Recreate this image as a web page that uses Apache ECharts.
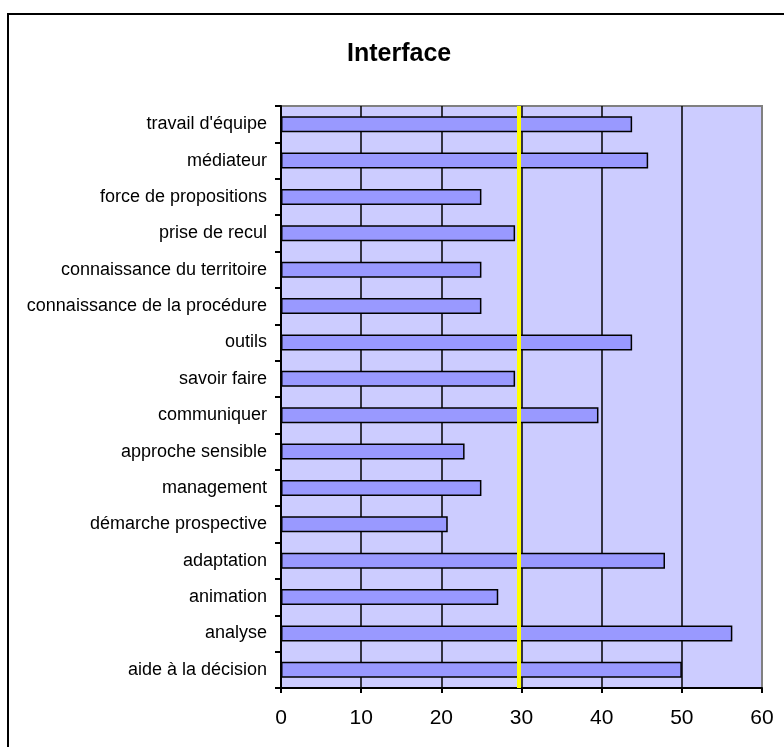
<!DOCTYPE html>
<html>
<head>
<meta charset="utf-8">
<title>Interface</title>
<script src="https://cdn.jsdelivr.net/npm/echarts@6/dist/echarts.min.js"></script>
<style>
  html, body { margin: 0; padding: 0; background: #fff; }
  #chart { width: 784px; height: 747px; }
</style>
</head>
<body>
<div id="chart"></div>
<script>
// categories, top to bottom as drawn
var categories = [
  'travail d\'équipe',
  'médiateur',
  'force de propositions',
  'prise de recul',
  'connaissance du territoire',
  'connaissance de la procédure',
  'outils',
  'savoir faire',
  'communiquer',
  'approche sensible',
  'management',
  'démarche prospective',
  'adaptation',
  'animation',
  'analyse',
  'aide à la décision'
]
var values = [43.8, 45.8, 25, 29.2, 25, 25, 43.8, 29.2, 39.6, 22.9, 25, 20.8, 47.9, 27.1, 56.3, 50]
var referenceLine = 29.7
var xMin = 0
var xMax = 60
var xStep = 10

var font = '"Liberation Sans", Arial, sans-serif'
var chart = echarts.init(document.getElementById('chart'))

chart.setOption({
  backgroundColor: '#ffffff',
  animation: false,
  graphic: [
    {
      type: 'rect',
      z: -10,
      shape: { x: 8, y: 14, width: 820, height: 800 },
      style: { fill: 'none', stroke: '#000', lineWidth: 2 }
    }
  ],
  title: {
    text: 'Interface',
    left: 347,
    top: 42,
    padding: 0,
    textStyle: {
      fontFamily: font,
      fontSize: 25,
      fontWeight: 'bold',
      color: '#000'
    }
  },
  grid: {
    left: 281,
    right: 22,
    top: 106,
    bottom: 59,
    show: true,
    backgroundColor: '#ccccff',
    borderColor: '#808080',
    borderWidth: 2
  },
  xAxis: {
    type: 'value',
    min: xMin,
    max: xMax,
    interval: xStep,
    axisLine: { show: true, lineStyle: { color: '#000', width: 2 } },
    axisTick: { show: true, length: 5, lineStyle: { color: '#000', width: 2 } },
    axisLabel: {
      margin: 20,
      fontFamily: font,
      fontSize: 21,
      color: '#000'
    },
    splitLine: {
      show: true,
      showMinLine: false,
      showMaxLine: false,
      lineStyle: { color: '#000', width: 1.5 }
    }
  },
  yAxis: {
    type: 'category',
    inverse: true,
    data: categories,
    axisLine: { show: true, lineStyle: { color: '#000', width: 2 } },
    axisTick: { show: true, length: 6, lineStyle: { color: '#000', width: 2 } },
    axisLabel: {
      margin: 14,
      fontFamily: font,
      fontSize: 18,
      color: '#000'
    },
    splitLine: { show: false }
  },
  series: [
    {
      type: 'bar',
      data: values,
      barWidth: 16,
      itemStyle: {
        color: '#9999ff',
        borderColor: '#000',
        borderWidth: 1.5
      },
      markLine: {
        silent: true,
        symbol: 'none',
        label: { show: false },
        lineStyle: { color: '#ffff00', width: 4, type: 'solid' },
        data: [{ xAxis: referenceLine }]
      }
    }
  ]
})
</script>
</body>
</html>
